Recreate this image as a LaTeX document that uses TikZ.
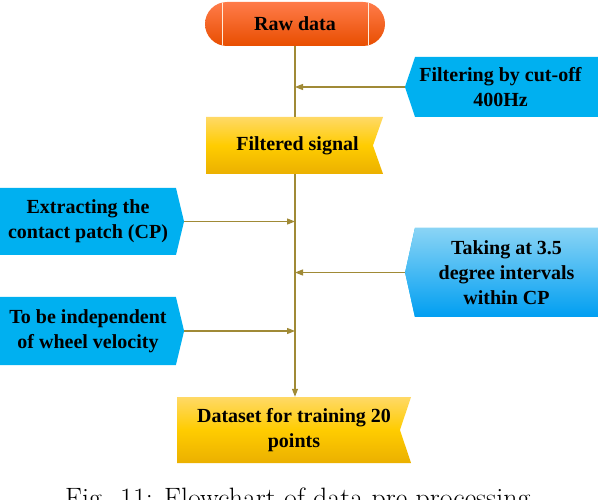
\documentclass[tikz,border=0pt]{standalone}
\usepackage{fontspec}
\newfontfamily\boxfont{Liberation Serif}
\usepackage{tikz}
\usetikzlibrary{shapes.symbols,shapes.misc,arrows.meta}
\definecolor{flowblue}{HTML}{00B0F0}
\definecolor{flowbluelight}{HTML}{8AD4F5}
\definecolor{flowyellowtop}{HTML}{FFD966}
\definecolor{flowyellowbot}{HTML}{EBB000}
\definecolor{floworangetop}{HTML}{FF7B4A}
\definecolor{floworangebot}{HTML}{E84E00}
\definecolor{flowline}{HTML}{A08A36}
\tikzset{
	boxtext/.style={font=\boxfont\fontsize{20}{25}\selectfont\bfseries, align=center, inner sep=0pt},
	sidebox/.style={boxtext, shape=signal, draw=none, fill=flowblue},
	midbox/.style={boxtext, shape=signal, signal from=east, signal to=nowhere, draw=none,
		top color=flowyellowtop, bottom color=flowyellowbot, middle color=yellow!60!orange},
	rawbox/.style={boxtext, shape=rounded rectangle, draw=none,
		top color=floworangetop, bottom color=floworangebot,
		minimum width=180pt, minimum height=44pt,
		path picture={
			\draw[white!85!orange, line width=0.8pt] ([xshift=17pt]path picture bounding box.north west) -- ([xshift=17pt]path picture bounding box.south west);
			\draw[white!85!orange, line width=0.8pt] ([xshift=-17pt]path picture bounding box.north east) -- ([xshift=-17pt]path picture bounding box.south east);
		}},
	link/.style={draw=flowline, line width=1.2pt, -{Triangle[length=8pt,width=6pt]}}
}

\begin{document}
\begin{tikzpicture}[x=1pt,y=-1pt]
	\clip (0,0) rectangle (598,500);
	\node[rawbox] (raw) at (295,24) {Raw data};
	\node[sidebox, signal to=west, signal pointer angle=143, minimum width=193pt, minimum height=60pt] (filt) at (506.5,87) {Filtering by cut-off\hspace*{12pt}\\400Hz\hspace*{12pt}};
	\node[midbox, signal pointer angle=141, minimum width=177pt, minimum height=57pt] (sig) at (289.5,145.5) {\hspace*{16pt}Filtered signal};
	\node[sidebox, signal to=east, signal pointer angle=153, minimum width=184pt, minimum height=67pt] (cp) at (88,221.5) {Extracting the\\contact patch (CP)};
	\node[sidebox, signal to=west, signal pointer angle=155, minimum width=193pt, minimum height=89pt,
		top color=flowbluelight, bottom color=flowblue!90!blue] (deg) at (506.5,272.5) {Taking at 3.5\\degree intervals\\within CP};
	\node[sidebox, signal to=east, signal pointer angle=153, minimum width=184pt, minimum height=68pt] (vel) at (88,331) {To be independent\\of wheel velocity};
	\node[midbox, signal pointer angle=143, minimum width=234pt, minimum height=66pt] (data) at (288.5,430) {\hspace*{11pt}Dataset for training 20\\\hspace*{11pt}points};

	\draw[link, -] (raw.south) -- (sig.north -| raw.south);
	\draw[link] (sig.south -| raw.south) -- (data.north -| raw.south);
	\draw[link] (filt.west) -- (filt.west -| raw.south);
	\draw[link] (cp.east) -- (cp.east -| raw.south);
	\draw[link] (deg.west) -- (deg.west -| raw.south);
	\draw[link] (vel.east) -- (vel.east -| raw.south);

	\node[anchor=base west, inner sep=0pt, font=\fontsize{28}{32}\selectfont] (caption) at (65,507) {Fig. 11: Flowchart of data pre-processing};
\end{tikzpicture}
\end{document}
